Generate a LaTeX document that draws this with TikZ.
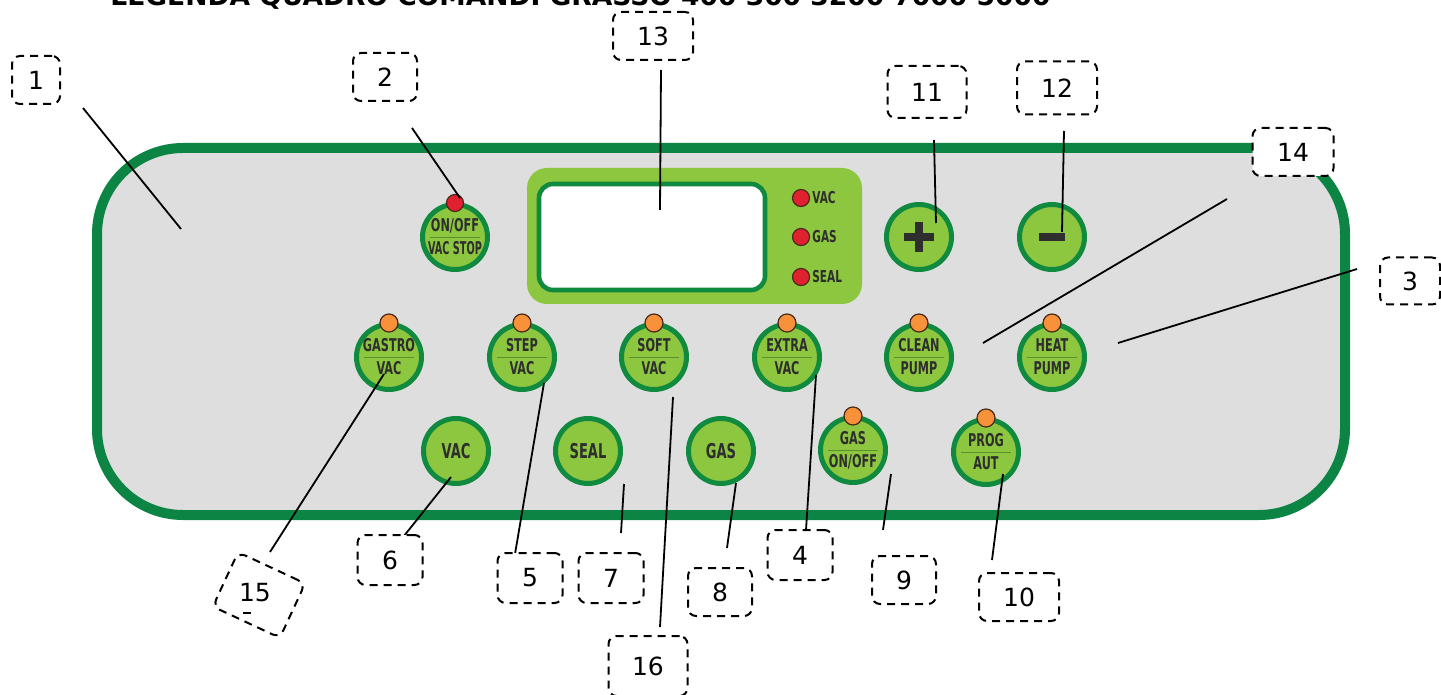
\documentclass[tikz,border=0pt]{standalone}
\usepackage{fontspec}
\usepackage{graphicx}
\usetikzlibrary{calc}
\newfontfamily\numfont{DejaVu Sans}
\newfontfamily\btnfont{DejaVu Sans}[FakeStretch=0.64]
\newfontfamily\titlefont{DejaVu Sans}
\definecolor{panelgreen}{HTML}{0C8443}
\definecolor{panelgray}{HTML}{DEDEDE}
\definecolor{ringgreen}{HTML}{108A3F}
\definecolor{btngreen}{HTML}{8DC63F}
\definecolor{btntext}{HTML}{2E2E2E}
\definecolor{divgreen}{HTML}{5C8F2E}
\definecolor{ledorange}{HTML}{F7923A}
\definecolor{ledred}{HTML}{E0212F}
\definecolor{ledrim}{HTML}{4A2A1A}
\tikzset{
  panel/.style={draw=panelgreen, line width=5pt, fill=panelgray, rounded corners=43pt},
  btn/.style={circle, draw=ringgreen, line width=2.5pt, fill=btngreen, minimum size=32.5pt, inner sep=0pt},
  ledo/.style={circle, draw=ledrim, line width=0.6pt, fill=ledorange, minimum size=9pt, inner sep=0pt},
  ledr/.style={circle, draw=ledrim, line width=0.6pt, fill=ledred, minimum size=8.5pt, inner sep=0pt},
  btxt/.style={font=\btnfont\bfseries\fontsize{8.8}{8.8}\selectfont, text=btntext, inner sep=0pt, anchor=base},
  bigtxt/.style={font=\btnfont\bfseries\fontsize{10.2}{10.2}\selectfont, text=btntext, inner sep=0pt, anchor=base},
  ledtxt/.style={font=\btnfont\bfseries\fontsize{8.2}{8.2}\selectfont, text=btntext, inner sep=0pt, anchor=base west},
  lab/.style={draw=black, fill=white, line width=1pt, dash pattern=on 4pt off 3pt, rounded corners=4pt,
              font=\numfont\fontsize{12.5}{12.5}\selectfont, inner sep=0pt},
  leader/.style={draw=black, line width=0.9pt},
  divider/.style={draw=divgreen, line width=0.4pt},
  symb/.style={draw=btntext},
}
\newcommand\twobtn[6]{% name, x, y, top, bottom, led
  \node[btn] (#1) at (#2,#3) {};
  \draw[divider] ($(#1)+(-25,0)$) -- ($(#1)+(25,0)$);
  \node[btxt] (#1t) at ($(#1)+(0,-5.2)$) {#4};
  \node[btxt] (#1b) at ($(#1)+(0,17.9)$) {#5};
  \node[#6] (#1led) at ($(#1)+(0,-34)$) {};
}
\newcommand\onebtn[4]{% name, x, y, text
  \node[btn] (#1) at (#2,#3) {};
  \node[bigtxt] (#1t) at ($(#1)+(0,7.4)$) {#4};
}
\begin{document}
\begin{tikzpicture}[x=0.5pt, y=-0.5pt]
\useasboundingbox (0,0) rectangle (1441,695);
\clip (0,0) rectangle (1441,695);

% title (cut off at the top)
\node[anchor=base west, inner sep=0pt] (title) at (110,6)
  {\resizebox{470pt}{!}{\titlefont\bfseries LEGENDA QUADRO COMANDI GRASSO 400 300 3200 7000 5000}};

% panel
\draw[panel] (97,148) rectangle (1345,515);

% display
\fill[btngreen, rounded corners=10pt] (527,168) rectangle (862,304);
\draw[draw=ringgreen, fill=white, line width=2.3pt, rounded corners=7pt] (539,184) rectangle (765,290);
\node[ledr] (dvac) at (801,198) {};
\node[ledr] (dgas) at (801,237) {};
\node[ledr] (dseal) at (801,277) {};
\node[ledtxt] (dvact) at (812,204) {VAC};
\node[ledtxt] (dgast) at (812,243) {GAS};
\node[ledtxt] (dsealt) at (812,283) {SEAL};

% buttons
\twobtn{onoff}{455}{237}{ON/OFF}{\scalebox{0.86}[1]{VAC STOP}}{ledr}
\node[btn] (plus) at (919,237) {};
\draw[symb, line width=3.6pt] ($(plus)+(-15,0)$) -- ($(plus)+(15,0)$);
\draw[symb, line width=3.6pt] ($(plus)+(0,-15)$) -- ($(plus)+(0,15)$);
\node[btn] (minus) at (1052,237) {};
\draw[symb, line width=4pt] ($(minus)+(-13,0)$) -- ($(minus)+(13,0)$);

\twobtn{gastro}{389}{357}{GASTRO}{VAC}{ledo}
\twobtn{step}{522}{357}{STEP}{VAC}{ledo}
\twobtn{soft}{654}{357}{SOFT}{VAC}{ledo}
\twobtn{extra}{787}{357}{EXTRA}{VAC}{ledo}
\twobtn{clean}{919}{357}{CLEAN}{PUMP}{ledo}
\twobtn{heat}{1052}{357}{HEAT}{PUMP}{ledo}
\onebtn{vac}{456}{451}{VAC}
\onebtn{seal}{588}{451}{SEAL}
\onebtn{gas}{721}{451}{GAS}
\twobtn{gasonoff}{853}{450}{GAS}{ON/OFF}{ledo}
\twobtn{prog}{986}{452}{PROG}{AUT}{ledo}

% leader lines
\coordinate (a1) at (83,108);   \coordinate (b1) at (181,229);
\coordinate (a2) at (412,128);  \coordinate (b2) at (460,198);
\coordinate (a13) at (661,70);  \coordinate (b13) at (660,210);
\coordinate (a11) at (934,140); \coordinate (b11) at (936,223);
\coordinate (a12) at (1064,131);\coordinate (b12) at (1062,232);
\coordinate (a14) at (1227,199);\coordinate (b14) at (983,343);
\coordinate (a3) at (1357,269); \coordinate (b3) at (1118,343);
\coordinate (a15) at (270,552); \coordinate (b15) at (384,374);
\coordinate (a6) at (404,536);  \coordinate (b6) at (451,477);
\coordinate (a5) at (515,554);  \coordinate (b5) at (544,383);
\coordinate (a7) at (621,533);  \coordinate (b7) at (624,484);
\coordinate (a16) at (660,627); \coordinate (b16) at (673,397);
\coordinate (a8) at (727,548);  \coordinate (b8) at (736,483);
\coordinate (a4) at (806,530);  \coordinate (b4) at (816,375);
\coordinate (a9) at (883,530);  \coordinate (b9) at (891,474);
\coordinate (a10) at (992,560); \coordinate (b10) at (1003,474);
\foreach \i in {1,2,13,11,12,14,3,15,6,5,7,16,8,4,9,10}{
  \draw[leader] (a\i) -- (b\i);
}

% label boxes
\node[lab, minimum width=24pt, minimum height=24pt] (l1) at (36,80) {1};
\node[lab, minimum width=32pt, minimum height=24pt] (l2) at (385,77) {2};
\node[lab, minimum width=40pt, minimum height=24pt] (l13) at (653,36) {13};
\node[lab, minimum width=39.5pt, minimum height=26pt] (l11) at (927,92) {11};
\node[lab, minimum width=40pt, minimum height=26.5pt] (l12) at (1057,88) {12};
\node[lab, minimum width=40.5pt, minimum height=24pt] (l14) at (1293,152) {14};
\node[lab, minimum width=30pt, minimum height=23.5pt] (l3) at (1410,281) {3};
\node[lab, minimum width=32.5pt, minimum height=25pt] (l6) at (390,560) {6};
\node[lab, minimum width=32.5pt, minimum height=25pt] (l5) at (530,578) {5};
\node[lab, minimum width=32.5pt, minimum height=25pt] (l7) at (611,578) {7};
\node[lab, minimum width=39.5pt, minimum height=30pt] (l16) at (648,666) {16};
\node[lab, minimum width=32pt, minimum height=24pt] (l8) at (720,592) {8};
\node[lab, minimum width=32.5pt, minimum height=25pt] (l4) at (800,555) {4};
\node[lab, minimum width=32pt, minimum height=24pt] (l9) at (904,580) {9};
\node[lab, minimum width=40pt, minimum height=24pt] (l10) at (1019,597) {10};
\node[lab, minimum width=37pt, minimum height=30pt, rotate=-25] (l15) at (259,595) {};
\node[font=\numfont\fontsize{12.5}{12.5}\selectfont, inner sep=0pt] (t15) at (255,593) {15};
\coordinate (m15a) at (243,613); \coordinate (m15b) at (251,613);
\draw[line width=1pt] (m15a) -- (m15b);
\end{tikzpicture}
\end{document}
